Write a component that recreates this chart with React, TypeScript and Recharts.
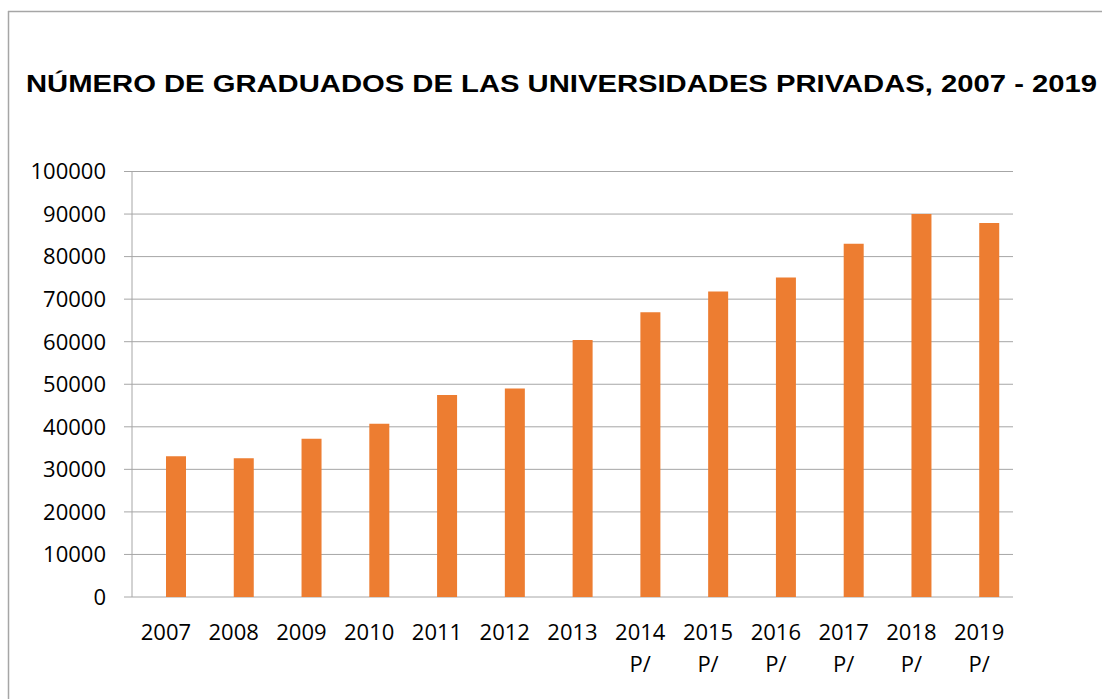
import React from 'react';
import { BarChart, Bar, XAxis, YAxis, CartesianGrid } from 'recharts';

const years = ['2007', '2008', '2009', '2010', '2011', '2012', '2013', '2014', '2015', '2016', '2017', '2018', '2019'];
const notes = ['', '', '', '', '', '', '', 'P/', 'P/', 'P/', 'P/', 'P/', 'P/'];
const graduados = [33100, 32600, 37200, 40700, 47500, 49000, 60400, 66900, 71800, 75100, 83000, 90000, 87900];
// empty series that holds the left slot of each category (bars sit right of centre in the original)
const blank = [null, null, null, null, null, null, null, null, null, null, null, null, null];
const yTicks = [0, 10000, 20000, 30000, 40000, 50000, 60000, 70000, 80000, 90000, 100000];
const boundaries = [0, 1, 2, 3, 4, 5, 6, 7, 8, 9, 10, 11, 12, 13];

const title = 'NÚMERO DE GRADUADOS DE LAS UNIVERSIDADES PRIVADAS, 2007 - 2019';

const data = years.map((y, i) => ({ year: y, note: notes[i], blank: blank[i], value: graduados[i] }));

const labelFont = "'Open Sans', 'Noto Sans', sans-serif";
const gridColor = '#a6a6a6';

const YearTick = (props: any) => {
  const { x, y, payload, index } = props;
  const note = notes[index] ?? '';
  return (
    <g transform={`translate(${x},${y})`}>
      <text textAnchor="middle" fontSize={22} fontFamily={labelFont} fill="#000">
        <tspan x={0} dy={43}>{payload.value}</tspan>
        {note && <tspan x={0} dy={32}>{note}</tspan>}
      </text>
    </g>
  );
};

export default function App() {
  return (
    <div style={{ position: 'absolute', left: 0, top: 0, width: 1102, height: 699, background: '#fff', overflow: 'hidden' }}>
      <svg width={1102} height={699} style={{ position: 'absolute', left: 0, top: 0 }}>
        <line x1={8} y1={11.5} x2={1102} y2={11.5} stroke={gridColor} strokeWidth={1.5} />
        <line x1={8.5} y1={11} x2={8.5} y2={699} stroke={gridColor} strokeWidth={1.5} />
        <text
          x={26}
          y={92}
          fontFamily="'Liberation Sans', Arial, sans-serif"
          fontWeight="bold"
          fontSize={23}
          fill="#000"
          textLength={1071}
          lengthAdjust="spacingAndGlyphs"
        >
          {title}
        </text>
      </svg>
      <div style={{ position: 'absolute', left: 0, top: 0 }}>
        <BarChart
          width={1102}
          height={699}
          data={data}
          margin={{ top: 171.5, right: 89, bottom: 0, left: 0 }}
          barSize={20}
          barGap={0}
        >
          <CartesianGrid horizontal vertical={false} stroke={gridColor} />
          <XAxis
            xAxisId="grid"
            type="number"
            domain={[0, 13]}
            ticks={boundaries}
            tick={false}
            tickSize={8}
            axisLine={{ stroke: gridColor }}
            tickLine={{ stroke: gridColor }}
            height={0}
            allowDataOverflow
          />
          <XAxis
            dataKey="year"
            height={102}
            axisLine={false}
            tickLine={false}
            tickSize={0}
            tickMargin={0}
            interval={0}
            tick={<YearTick />}
          />
          <YAxis
            width={132}
            domain={[0, 100000]}
            ticks={yTicks}
            interval={0}
            tickSize={8}
            tickMargin={18}
            axisLine={{ stroke: gridColor }}
            tickLine={{ stroke: gridColor }}
            tick={{ fontSize: 22, fill: '#000', fontFamily: labelFont }}
          />
          <Bar dataKey="blank" fill="#ed7d31" isAnimationActive={false} legendType="none" />
          <Bar dataKey="value" fill="#ed7d31" isAnimationActive={false} />
        </BarChart>
      </div>
    </div>
  );
}
